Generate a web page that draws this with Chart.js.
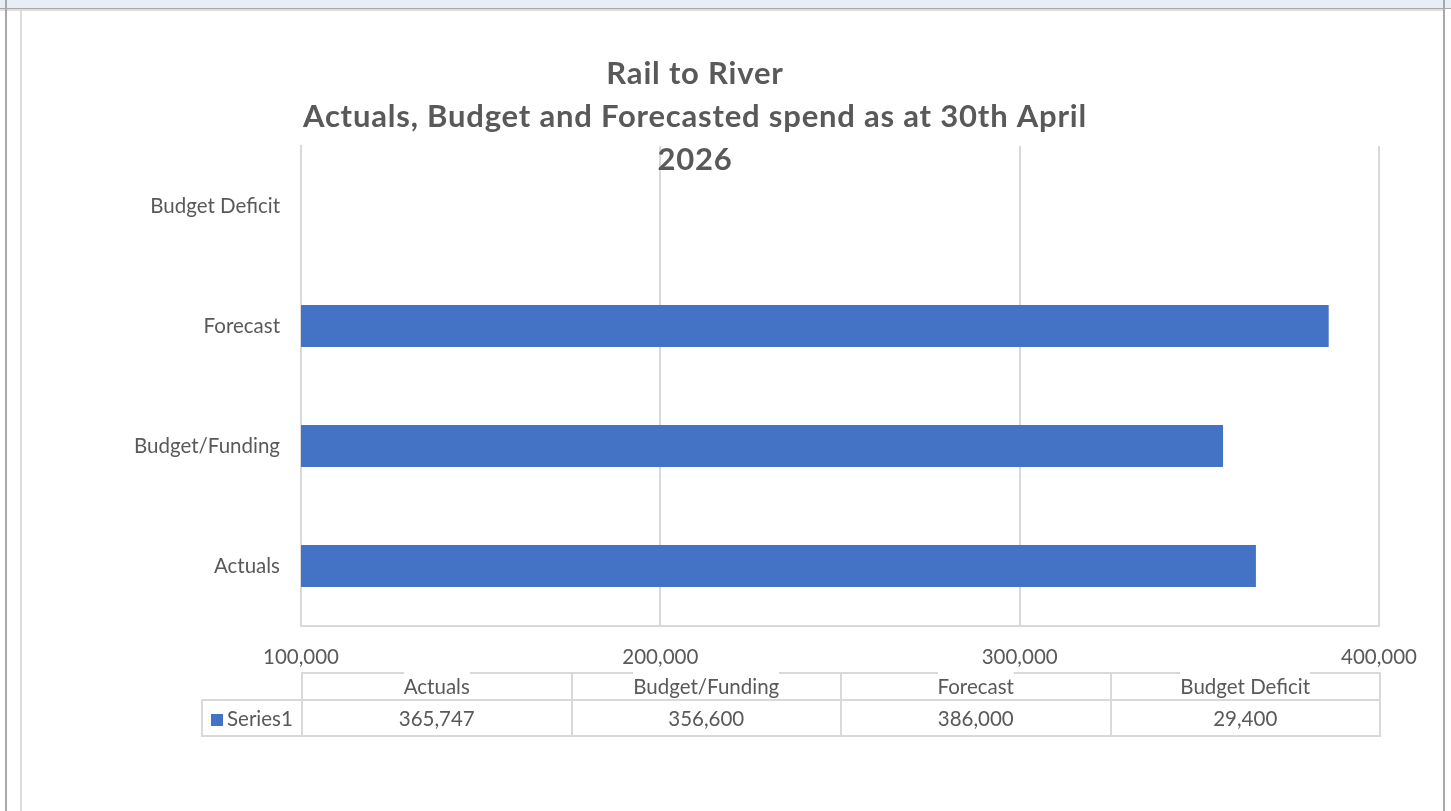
<!DOCTYPE html>
<html>
<head>
<meta charset="utf-8">
<title>Rail to River</title>
<script src="https://cdn.jsdelivr.net/npm/chart.js@4.4.1/dist/chart.umd.min.js"></script>
<style>
  html, body {
    margin: 0;
    padding: 0;
    width: 1451px;
    height: 811px;
    overflow: hidden;
    background: #fff;
    font-family: Lato, "Open Sans", sans-serif;
  }
  .frame { position: absolute; }
  #strip { left: 0; top: 0; width: 1451px; height: 8px; background: #e8eef6; border-bottom: 1px solid #a9a9a9; }
  #strip2 { left: 0; top: 9px; width: 1443px; height: 2px; background: #dedede; }
  #leftOuter { left: 5px; top: 0; width: 2px; height: 811px; background: #a8a8a8; }
  #leftInner { left: 20px; top: 10px; width: 2px; height: 801px; background: #dcdcdc; }
  #rightOuter { left: 1443px; top: 0; width: 2px; height: 811px; background: #a8a8a8; }

  #chart { position: absolute; left: 0; top: 0; }

  #dataTable {
    position: absolute;
    top: 672px;
    border-collapse: collapse;
    table-layout: fixed;
    color: #595959;
    font-size: 20.5px;
  }
  #dataTable td, #dataTable th {
    padding: 0;
    font-weight: normal;
    text-align: center;
    border: 2px solid #d9d9d9;
    white-space: nowrap;
  }
  #dataTable tr.hdr td.blank { border: none; }
  #dataTable tr.hdr th { height: 25px; position: relative; }
  #dataTable tr.hdr th span {
    position: absolute;
    left: 50%;
    top: -3px;
    transform: translateX(-50%);
    background: #fff;
    padding-top: 4px;
    line-height: 22px;
  }
  #dataTable tr.val td { height: 34px; }
  #dataTable tr.val td.leg { text-align: left; padding-left: 8px; }
  .marker {
    display: inline-block;
    width: 12px;
    height: 12px;
    background: #4472c4;
    margin-right: 4px;
    vertical-align: 0px;
  }
</style>
</head>
<body>
<div class="frame" id="strip"></div>
<div class="frame" id="strip2"></div>
<div class="frame" id="leftOuter"></div>
<div class="frame" id="leftInner"></div>
<div class="frame" id="rightOuter"></div>

<canvas id="chart" width="1451" height="811"></canvas>
<table id="dataTable"></table>

<script>
/* =========================
   DATA
========================= */
const titleLines = ["Rail to River", "Actuals, Budget and Forecasted spend as at 30th April", "2026"];
const categories = ["Actuals", "Budget/Funding", "Forecast", "Budget Deficit"];
const seriesName = "Series1";
const series1 = [365747, 356600, 386000, 29400];
const xTicks = [100000, 200000, 300000, 400000];

const fmt = v => v.toLocaleString("en-US");
const textColor = "#595959";
const gridColor = "#d9d9d9";
const labelSize = 20.5;

/* =========================
   DATA TABLE (below axis)
========================= */
function buildTable() {
  let hdr = `<tr class="hdr"><td class="blank"></td>`;
  categories.forEach(c => { hdr += `<th><span>${c}</span></th>`; });
  hdr += `</tr>`;

  let val = `<tr class="val"><td class="leg"><span class="marker"></span>${seriesName}</td>`;
  series1.forEach(v => { val += `<td>${fmt(v)}</td>`; });
  val += `</tr>`;

  document.getElementById("dataTable").innerHTML = hdr + val;
}
buildTable();

const tablePlugin = {
  id: "tablePos",
  afterLayout(chart) {
    const area = chart.chartArea;
    const legW = 100;
    const table = document.getElementById("dataTable");
    table.style.left = (area.left - legW) + "px";
    table.style.width = (area.right - area.left + legW) + "px";
    let cols = `<colgroup><col style="width:${legW}px">`;
    categories.forEach(() => {
      cols += `<col style="width:${(area.right - area.left) / categories.length}px">`;
    });
    cols += `</colgroup>`;
    const old = table.querySelector("colgroup");
    if (old) old.remove();
    table.insertAdjacentHTML("afterbegin", cols);
  }
};

/* =========================
   TITLE
========================= */
const titlePlugin = {
  id: "titleLines",
  afterDraw(chart) {
    const ctx = chart.ctx;
    ctx.save();
    ctx.font = "bold 31px Lato";
    ctx.letterSpacing = "0.8px";
    ctx.fillStyle = textColor;
    ctx.textAlign = "center";
    ctx.textBaseline = "middle";
    titleLines.forEach((t, i) => ctx.fillText(t, 695, 74 + i * 43));
    ctx.restore();
  }
};

/* =========================
   CHART
========================= */
new Chart(document.getElementById("chart"), {
  type: "bar",
  data: {
    labels: categories,
    datasets: [{
      label: seriesName,
      data: series1,
      backgroundColor: "#4472c4",
      barPercentage: 0.35,
      categoryPercentage: 1
    }]
  },
  options: {
    indexAxis: "y",
    responsive: false,
    animation: false,
    devicePixelRatio: 1,
    layout: {
      padding: { top: 146, right: 72, bottom: 135, left: 0 }
    },
    plugins: {
      legend: { display: false },
      title: { display: false },
      tooltip: { enabled: false }
    },
    scales: {
      x: {
        min: 100000,
        max: 400000,
        afterBuildTicks: s => { s.ticks = xTicks.map(v => ({ value: v })); },
        afterFit: s => { s.height = 50; },
        grid: { color: gridColor, lineWidth: 2, drawTicks: false },
        border: { display: true, color: gridColor, width: 2 },
        ticks: {
          padding: 19,
          color: textColor,
          font: { family: "Lato", size: labelSize },
          maxRotation: 0,
          callback: v => fmt(v)
        }
      },
      y: {
        reverse: true,
        afterFit: s => { s.width = 301; },
        grid: { display: false, drawTicks: false },
        border: { display: true, color: gridColor, width: 2 },
        ticks: {
          padding: 21,
          color: textColor,
          font: { family: "Lato", size: labelSize }
        }
      }
    }
  },
  plugins: [tablePlugin, titlePlugin]
});
</script>
</body>
</html>
